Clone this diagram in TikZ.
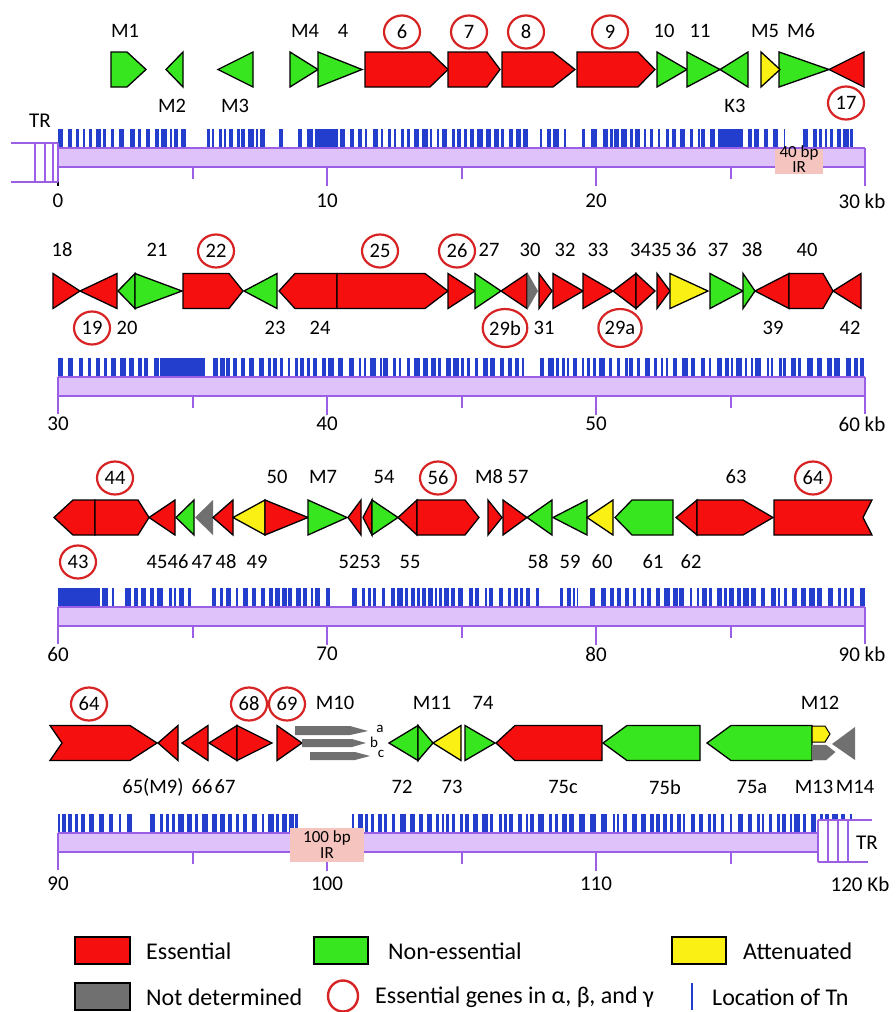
\documentclass[tikz,border=0pt]{standalone}
\usepackage{fontspec}
\setmainfont{Carlito}
\usetikzlibrary{shapes.geometric}

\definecolor{ess}{RGB}{245,15,15}
\definecolor{non}{RGB}{55,230,30}
\definecolor{att}{RGB}{250,240,20}
\definecolor{nd}{RGB}{112,112,112}
\definecolor{tnblue}{RGB}{35,62,205}
\definecolor{circred}{RGB}{215,35,35}
\definecolor{barfill}{RGB}{224,194,250}
\definecolor{barline}{RGB}{155,95,230}
\definecolor{irpink}{RGB}{246,196,190}

\tikzset{
  gene/.style={draw=black, line width=1.3pt, line join=miter},
  bl/.style={draw=barline, line width=2pt},
  lab/.style={font=\fontsize{20.5}{20.5}\selectfont, inner sep=0pt},
  clab/.style={lab, ellipse, draw=circred, line width=2.2pt, minimum width=36pt, minimum height=33pt},
  wlab/.style={clab, minimum width=40pt, minimum height=38pt},
  axl/.style={font=\fontsize{21}{21}\selectfont, inner sep=0pt},
  irl/.style={font=\fontsize{17}{15.5}\selectfont, inner sep=0pt, align=center},
  sml/.style={font=\fontsize{15}{15}\selectfont, inner sep=0pt},
  leg/.style={font=\fontsize{24}{24}\selectfont, inner sep=0pt, anchor=west},
  legbox/.style={draw=black, line width=1.5pt},
}

% half height of a gene symbol
\newcommand\genehalf{17.5}
% right / left pointing arrows: x1, x2, tip length, y centre, colour
\newcommand\gR[5]{\filldraw[gene,fill=#5] (#1,{#4-\genehalf}) -- ({#2-#3},{#4-\genehalf}) -- (#2,#4) -- ({#2-#3},{#4+\genehalf}) -- (#1,{#4+\genehalf}) -- cycle;}
\newcommand\gL[5]{\filldraw[gene,fill=#5] (#1,#4) -- ({#1+#3},{#4-\genehalf}) -- (#2,{#4-\genehalf}) -- (#2,{#4+\genehalf}) -- ({#1+#3},{#4+\genehalf}) -- cycle;}
% triangles: x1, x2, y centre, colour
\newcommand\tR[4]{\filldraw[gene,fill=#4] (#1,{#3-\genehalf}) -- (#2,#3) -- (#1,{#3+\genehalf}) -- cycle;}
\newcommand\tL[4]{\filldraw[gene,fill=#4] (#1,#3) -- (#2,{#3-\genehalf}) -- (#2,{#3+\genehalf}) -- cycle;}

% transposon insertion marks: bar top y, from x, to x
\newcommand\tnrun[3]{%
  \pgfmathsetmacro\tnx{#2}%
  \loop
    \pgfmathsetmacro\tnw{2+4*rnd}%
    \pgfmathsetmacro\tne{min(\tnx+\tnw,#3)}%
    \fill[tnblue] (\tnx,{#1-19}) rectangle (\tne,#1);%
    \pgfmathsetmacro\tnx{\tnx+\tnw+1.5+4.5*rnd}%
  \ifdim\tnx pt<#3pt\repeat}
\newcommand\tnblock[3]{\fill[tnblue] (#2,{#1-19}) rectangle (#3,#1);}

% genome bar: top y, x start, x end
\newcommand\axisbar[3]{%
  \fill[barfill] (#2,#1) rectangle (#3,{#1+19});
  \draw[bl] (#2,#1) -- (#3,#1) (#2,{#1+19}) -- (#3,{#1+19});}
% scale marks below the bar: top y
\newcommand\scalemarks[1]{%
  \draw[bl] (192.5,{#1+19}) -- (192.5,{#1+31})
            (327,{#1+19}) -- (327,{#1+38})
            (461.5,{#1+19}) -- (461.5,{#1+31})
            (596,{#1+19}) -- (596,{#1+38})
            (730.5,{#1+19}) -- (730.5,{#1+31});}

\begin{document}
\begin{tikzpicture}[x=1pt,y=-1pt]
\useasboundingbox (0,0) rectangle (895,1012);
\pgfmathsetseed{11}

%% ---------------- 0 - 30 kb ----------------
\def\ry{69.5}
\gR{111}{146}{19}{\ry}{non}
\tL{166}{183}{\ry}{non}
\tL{218}{253}{\ry}{non}
\tR{290}{318}{\ry}{non}
\tR{318}{362}{\ry}{non}
\gR{365}{448}{18}{\ry}{ess}
\gR{448}{500}{13}{\ry}{ess}
\gR{502}{575}{22}{\ry}{ess}
\gR{577}{655}{17}{\ry}{ess}
\tR{657}{687}{\ry}{non}
\tR{687}{720}{\ry}{non}
\tL{720}{748}{\ry}{non}
\tR{779}{829}{\ry}{non}
\tR{761}{780}{\ry}{att}
\tL{829}{864}{\ry}{ess}

\node[lab] (nM1) at (125,31) {M1};
\node[lab] (nM4) at (305,31) {M4};
\node[lab] (n4) at (343,31) {4};
\node[clab] (n6) at (402,32) {6};
\node[clab] (n7) at (469,32) {7};
\node[clab] (n8) at (526,32) {8};
\node[clab] (n9) at (610,32) {9};
\node[lab] (n10) at (664,31) {10};
\node[lab] (n11) at (700,31) {11};
\node[lab] (nM5) at (765,31) {M5};
\node[lab] (nM6) at (801,31) {M6};
\node[lab] (nM2) at (172,106) {M2};
\node[lab] (nM3) at (235,106) {M3};
\node[lab] (nK3) at (735,106) {K3};
\node[clab] (n17) at (846,103) {17};

\tnrun{148}{58}{190} \tnrun{148}{207}{266} \tnrun{148}{279}{286}
\tnrun{148}{298}{528} \tnrun{148}{540}{566} \tnrun{148}{582}{785}
\tnrun{148}{803}{853}
\tnblock{148}{316}{336} \tnblock{148}{722}{742}
\axisbar{148}{58}{865}
\draw[bl] (865,148) -- (865,186);
\scalemarks{148}
\draw[black, line width=2pt] (58,167) -- (58,186);
% terminal repeat
\draw[bl] (11,143) -- (58,143) (11,182) -- (58,182)
          (35,143) -- (35,182) (45,143) -- (45,182) (53,143) -- (53,182) (58,143) -- (58,182);
\node[axl] (tr1) at (40,121) {TR};
% inverted repeat
\fill[irpink] (775,149) rectangle (823,174);
\node[irl] (ir1) at (799,159) {40 bp\\IR};
\node[axl] (s0) at (58,201) {0};
\node[axl] (s10) at (327,201) {10};
\node[axl] (s20) at (596,201) {20};
\node[axl] (s30) at (862,201) {30 kb};

%% ---------------- 30 - 60 kb ----------------
\def\ry{291}
\tR{53}{80}{\ry}{ess}
\tL{80}{117}{\ry}{ess}
\tL{118}{135}{\ry}{non}
\tR{135}{182}{\ry}{non}
\gR{183}{243}{14}{\ry}{ess}
\tL{244}{277}{\ry}{non}
\gL{279}{337}{16}{\ry}{ess}
\gR{337}{448}{23}{\ry}{ess}
\tR{448}{475}{\ry}{ess}
\tR{475}{501}{\ry}{non}
\tL{501}{527}{\ry}{ess}
\fill[nd] (528,{\ry-\genehalf}) -- (538,\ry) -- (528,{\ry+\genehalf}) -- cycle;
\tR{539}{552}{\ry}{ess}
\tR{553}{583}{\ry}{ess}
\tR{583}{613}{\ry}{ess}
\tL{613}{636}{\ry}{ess}
\tR{636}{655}{\ry}{ess}
\tR{657}{670}{\ry}{ess}
\tR{670}{708}{\ry}{att}
\tR{710}{743}{\ry}{non}
\tR{743}{755}{\ry}{non}
\tL{755}{789}{\ry}{ess}
\gR{789}{833}{10}{\ry}{ess}
\tL{833}{861}{\ry}{ess}

\node[lab] (n18) at (62,250) {18};
\node[lab] (n21) at (157,250) {21};
\node[clab] (n22) at (216,251) {22};
\node[clab] (n25) at (380,251) {25};
\node[clab] (n26) at (457,251) {26};
\node[lab] (n27) at (489,250) {27};
\node[lab] (n30) at (530,250) {30};
\node[lab] (n32) at (565,250) {32};
\node[lab] (n33) at (598,250) {33};
\node[lab] (n3435) at (651,250) {3435};
\node[lab] (n36) at (686,250) {36};
\node[lab] (n37) at (718,250) {37};
\node[lab] (n38) at (752,250) {38};
\node[lab] (n40) at (807,250) {40};
\node[clab] (n19) at (92,328) {19};
\node[lab] (n20) at (127,328) {20};
\node[lab] (n23) at (275,328) {23};
\node[lab] (n24) at (320,328) {24};
\node[wlab] (n29b) at (505,328) {29b};
\node[lab] (n31) at (544,328) {31};
\node[wlab] (n29a) at (620,328) {29a};
\node[lab] (n39) at (773,328) {39};
\node[lab] (n42) at (850,328) {42};

\tnrun{377}{58}{160} \tnblock{377}{160}{205}
\tnrun{377}{213}{525} \tnrun{377}{540}{865}
\axisbar{377}{58}{865}
\draw[bl] (58,377) -- (58,414) (865,377) -- (865,414);
\scalemarks{377}
\node[axl] (s30b) at (58,424) {30};
\node[axl] (s40) at (327,424) {40};
\node[axl] (s50) at (596,424) {50};
\node[axl] (s60) at (862,424) {60 kb};

%% ---------------- 60 - 90 kb ----------------
\def\ry{517.5}
\gL{54}{95}{19}{\ry}{ess}
\gR{95}{149}{11}{\ry}{ess}
\tL{149}{175}{\ry}{ess}
\tL{176}{194}{\ry}{non}
\fill[nd] (195,\ry) -- (213,{\ry-\genehalf}) -- (213,{\ry+\genehalf}) -- cycle;
\tL{213}{233}{\ry}{ess}
\tL{233}{265}{\ry}{att}
\tR{265}{308}{\ry}{ess}
\tR{308}{347}{\ry}{non}
\tL{348}{361}{\ry}{ess}
\tL{363}{372}{\ry}{ess}
\tR{372}{398}{\ry}{non}
\tL{398}{417}{\ry}{ess}
\gR{417}{479}{14}{\ry}{ess}
\tR{488}{502}{\ry}{ess}
\tR{503}{527}{\ry}{ess}
\tL{527}{552}{\ry}{non}
\tL{553}{587}{\ry}{non}
\tL{587}{613}{\ry}{att}
\gL{615}{673}{17}{\ry}{non}
\tL{676}{697}{\ry}{ess}
\gR{697}{773}{30}{\ry}{ess}
\filldraw[gene,fill=ess] (774,500) -- (872,500) -- (863,517.5) -- (872,535) -- (774,535) -- cycle;

\node[clab] (n44) at (115,478) {44};
\node[lab] (n50) at (277,477) {50};
\node[lab] (nM7) at (323,477) {M7};
\node[lab] (n54) at (384,477) {54};
\node[clab] (n56) at (438,478) {56};
\node[lab] (nM8) at (489,477) {M8};
\node[lab] (n57) at (518,477) {57};
\node[lab] (n63) at (736,477) {63};
\node[clab] (n64a) at (813,478) {64};
\node[clab] (n43) at (78,562) {43};
\node[lab] (n45) at (157,562) {45};
\node[lab] (n46) at (178,562) {46};
\node[lab] (n47) at (202,562) {47};
\node[lab] (n48) at (226,562) {48};
\node[lab] (n49) at (257,562) {49};
\node[lab] (n52) at (349,562) {52};
\node[lab] (n53) at (370,562) {53};
\node[lab] (n55) at (410,562) {55};
\node[lab] (n58) at (538,562) {58};
\node[lab] (n59) at (570,562) {59};
\node[lab] (n60) at (602,562) {60};
\node[lab] (n61) at (653,562) {61};
\node[lab] (n62) at (691,562) {62};

\tnblock{607}{58}{100} \tnrun{607}{102}{114} \tnrun{607}{125}{194}
\tnrun{607}{212}{330} \tnrun{607}{352}{543} \tnrun{607}{560}{577}
\tnrun{607}{590}{865}
\axisbar{607}{58}{865}
\draw[bl] (58,607) -- (58,644) (865,607) -- (865,644);
\scalemarks{607}
\node[axl] (s60b) at (58,654) {60};
\node[axl] (s70) at (327,654) {70};
\node[axl] (s80) at (596,654) {80};
\node[axl] (s90) at (862,654) {90 kb};

%% ---------------- 90 - 120 kb ----------------
\def\ry{743}
\filldraw[gene,fill=ess] (50,725.5) -- (130,725.5) -- (157,743) -- (130,760.5) -- (50,760.5) -- (62,743) -- cycle;
\tL{158}{178}{\ry}{ess}
\tL{182}{208}{\ry}{ess}
\tL{209}{237}{\ry}{ess}
\tR{237}{272}{\ry}{ess}
\tR{277}{302}{\ry}{ess}
% M10 a, b, c
\fill[nd] (295,726) -- (350,726) -- (368,731) -- (350,735) -- (295,735) -- cycle;
\fill[nd] (302,739) -- (352,739) -- (366,743) -- (352,747) -- (302,747) -- cycle;
\fill[nd] (310,752) -- (355,752) -- (370,756) -- (355,760) -- (310,760) -- cycle;
\tL{389}{418}{\ry}{non}
\tR{418}{433}{\ry}{non}
\tL{433}{461}{\ry}{att}
\tR{465}{495}{\ry}{non}
\gL{496}{602}{19}{\ry}{ess}
\gL{603}{700}{24}{\ry}{non}
\gL{707}{812}{24}{\ry}{non}
\filldraw[gene,fill=att,line width=1pt] (812,726) -- (825,726) -- (830,734) -- (825,742) -- (812,742) -- cycle;
\filldraw[fill=nd,draw=nd] (812,745) -- (826,745) -- (835,752) -- (826,760) -- (812,760) -- cycle;
\fill[nd] (832,744) -- (855,727) -- (855,760) -- cycle;

\node[clab] (n64b) at (89,704) {64};
\node[clab] (n68) at (249,704) {68};
\node[clab] (n69) at (287,704) {69};
\node[lab] (nM10) at (335,703) {M10};
\node[lab] (nM11) at (432,703) {M11};
\node[lab] (n74) at (483,703) {74};
\node[lab] (nM12) at (820,703) {M12};
\node[sml] (na) at (380,729) {a};
\node[sml] (nb) at (374,742) {b};
\node[sml] (nc) at (381,754) {c};
\node[lab] (n65) at (153,787) {65(M9)};
\node[lab] (n66) at (202,787) {66};
\node[lab] (n67) at (225,787) {67};
\node[lab] (n72) at (402,787) {72};
\node[lab] (n73) at (452,787) {73};
\node[lab] (n75c) at (563,787) {75c};
\node[lab] (n75b) at (665,787) {75b};
\node[lab] (n75a) at (752,787) {75a};
\node[lab] (nM13) at (814,787) {M13};
\node[lab] (nM14) at (855,787) {M14};

\tnrun{833}{58}{135} \tnrun{833}{150}{298} \tnrun{833}{352}{853}
\axisbar{833}{58}{818}
\draw[bl] (58,833) -- (58,870);
\scalemarks{833}
% terminal repeat
\fill[white] (818,820) rectangle (870,862);
\draw[bl] (818,820) -- (872,820) (818,862) -- (868,862)
          (818,820) -- (818,862) (828,820) -- (828,862)
          (838,820) -- (838,862) (848,820) -- (848,862);
\node[axl] (tr4) at (867,843) {TR};
% inverted repeat
\fill[irpink] (290,828) rectangle (364,862);
\node[irl] (ir4) at (327,844.5) {100 bp\\IR};
\node[axl] (s90b) at (58,884) {90};
\node[axl] (s100) at (327,884) {100};
\node[axl] (s110) at (596,884) {110};
\node[axl] (s120) at (860,884) {120 Kb};

%% ---------------- key ----------------
\filldraw[legbox,fill=ess] (75,937) rectangle (130,964);
\node[leg] (kE) at (146,951) {Essential};
\filldraw[legbox,fill=non] (314,937) rectangle (368,964);
\node[leg] (kN) at (388,951) {Non-essential};
\filldraw[legbox,fill=att] (672,937) rectangle (726,964);
\node[leg] (kA) at (743,951) {Attenuated};
\filldraw[legbox,fill=nd] (75,983) rectangle (130,1010);
\node[leg] (kD) at (146,997) {Not determined};
\draw[circred, line width=2.4pt] (343,996) ellipse [x radius=15, y radius=15.5];
\node[leg] (kC) at (375,997) {Essential genes in α, β, and γ};
\draw[tnblue, line width=2.5pt] (692,983) -- (692,1010);
\node[leg] (kT) at (712,997) {Location of Tn};
\end{tikzpicture}
\end{document}
